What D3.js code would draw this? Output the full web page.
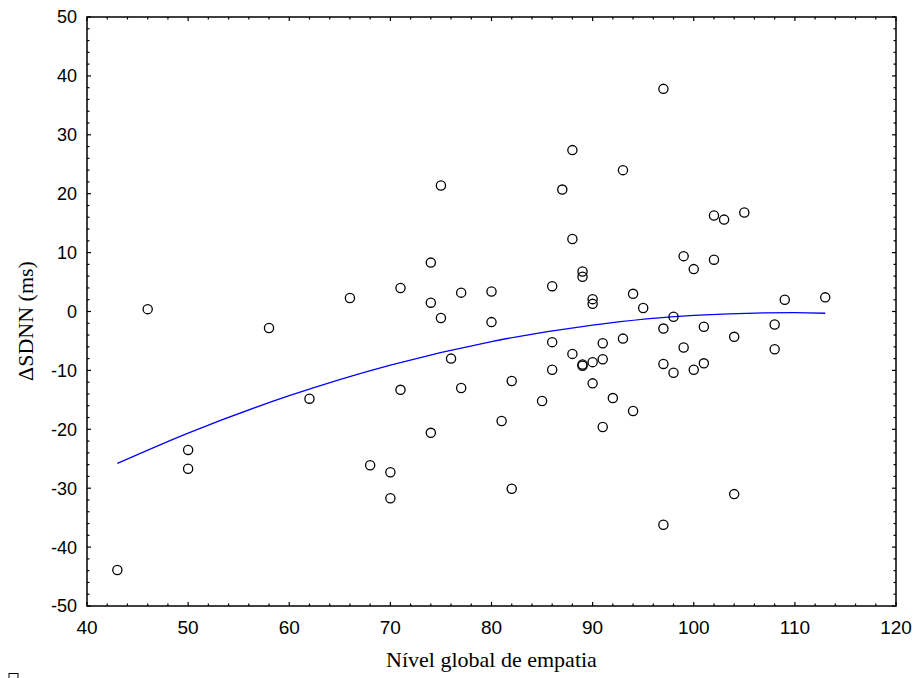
<!DOCTYPE html>
<html>
<head>
<meta charset="utf-8">
<script src="https://cdn.jsdelivr.net/npm/d3@7"></script>
<style>
html,body{margin:0;padding:0;background:#fff;}
svg{display:block;}
</style>
</head>
<body>
<svg id="chart" width="917" height="678"></svg>
<script>
// ---- data ----
const xValues = [43,46,50,50,58,62,66,68,70,70,71,71,74,74,74,75,75,76,77,77,80,80,81,82,82,85,86,86,86,87,88,88,88,89,89,89,89,90,90,90,90,91,91,91,92,93,93,94,94,95,97,97,97,97,98,98,99,99,100,100,101,101,102,102,103,104,104,105,108,108,109,113];
const yValues = [-43.9,0.4,-23.5,-26.7,-2.8,-14.8,2.3,-26.1,-27.3,-31.7,4.0,-13.3,8.3,1.5,-20.6,21.4,-1.1,-8.0,3.2,-13.0,3.4,-1.8,-18.6,-11.8,-30.1,-15.2,4.3,-5.2,-9.9,20.7,27.4,12.3,-7.2,6.8,5.9,-9.0,-9.2,2.1,1.3,-8.6,-12.2,-5.4,-8.1,-19.6,-14.7,24.0,-4.6,3.0,-16.9,0.6,37.8,-2.9,-8.9,-36.2,-0.9,-10.4,9.4,-6.1,7.2,-9.9,-2.6,-8.8,16.3,8.8,15.6,-4.3,-31.0,16.8,-2.2,-6.4,2.0,2.4];
// fitted curve
const curveX = [43,50,60,70,80,90,100,110,113];
const curveY = [-25.8,-20.65,-14.3,-9.1,-5.1,-2.3,-0.65,-0.2,-0.3];
const xTicks = [40,50,60,70,80,90,100,110,120];
const yTicks = [-50,-40,-30,-20,-10,0,10,20,30,40,50];
const xTitle = "Nível global de empatia";
const yTitle = "\u0394SDNN (ms)";

// ---- layout ----
const L = 87, R = 896, T = 17, B = 606;
const svg = d3.select("#chart");
const x = d3.scaleLinear().domain([40,120]).range([L,R]);
const y = d3.scaleLinear().domain([-50,50]).range([B,T]);

const minorX = d3.range(40,120.001,2).filter(v => v % 10 !== 0);
const minorY = d3.range(-50,50.001,2).filter(v => v % 10 !== 0);

const g = svg.append("g");

// frame
g.append("rect").attr("x",L).attr("y",T).attr("width",R-L).attr("height",B-T)
  .attr("fill","none").attr("stroke","#000").attr("stroke-width",1.5);

// ticks (inward, all sides)
function ticksX(vals, len){
  vals.forEach(v=>{
    g.append("line").attr("x1",x(v)).attr("x2",x(v)).attr("y1",B).attr("y2",B-len).attr("stroke","#000").attr("stroke-width",1.2);
    g.append("line").attr("x1",x(v)).attr("x2",x(v)).attr("y1",T).attr("y2",T+len).attr("stroke","#000").attr("stroke-width",1.2);
  });
}
function ticksY(vals, len){
  vals.forEach(v=>{
    g.append("line").attr("y1",y(v)).attr("y2",y(v)).attr("x1",L).attr("x2",L+len).attr("stroke","#000").attr("stroke-width",1.2);
    g.append("line").attr("y1",y(v)).attr("y2",y(v)).attr("x1",R).attr("x2",R-len).attr("stroke","#000").attr("stroke-width",1.2);
  });
}
ticksX(xTicks,4); ticksX(minorX,2.5);
ticksY(yTicks,4); ticksY(minorY,2.5);

// tick labels
g.selectAll(".xl").data(xTicks).enter().append("text")
  .attr("x",d=>x(d)).attr("y",634)
  .attr("text-anchor","middle")
  .attr("font-family","'Liberation Sans', Arial, sans-serif").attr("font-size",19)
  .text(d=>d);
g.selectAll(".yl").data(yTicks).enter().append("text")
  .attr("x",77).attr("y",d=>y(d)).attr("dy","0.36em")
  .attr("text-anchor","end")
  .attr("font-family","'Liberation Sans', Arial, sans-serif").attr("font-size",18)
  .text(d=>d);

// axis titles
g.append("text").attr("x",(L+R)/2).attr("y",667).attr("text-anchor","middle")
  .attr("font-family","'Liberation Serif', 'Times New Roman', serif").attr("font-size",22)
  .text(xTitle);
g.append("text").attr("transform","translate(33,321) rotate(-90)").attr("text-anchor","middle")
  .attr("font-family","'Liberation Serif', 'Times New Roman', serif").attr("font-size",22)
  .text(yTitle);

// curve
const line = d3.line().x(d=>x(d[0])).y(d=>y(d[1])).curve(d3.curveMonotoneX);
g.append("path").datum(curveX.map((v,i)=>[v,curveY[i]]))
  .attr("d",line).attr("fill","none").attr("stroke","#0000ff").attr("stroke-width",1.3);

// points
g.selectAll(".pt").data(xValues.map((v,i)=>[v,yValues[i]])).enter().append("circle")
  .attr("cx",d=>x(d[0])).attr("cy",d=>y(d[1])).attr("r",4.6)
  .attr("fill","none").attr("stroke","#000").attr("stroke-width",1.3);

// small marker at bottom-left
svg.append("rect").attr("x",9).attr("y",673.5).attr("width",9).attr("height",10)
  .attr("fill","none").attr("stroke","#000").attr("stroke-width",1);
</script>
</body>
</html>
